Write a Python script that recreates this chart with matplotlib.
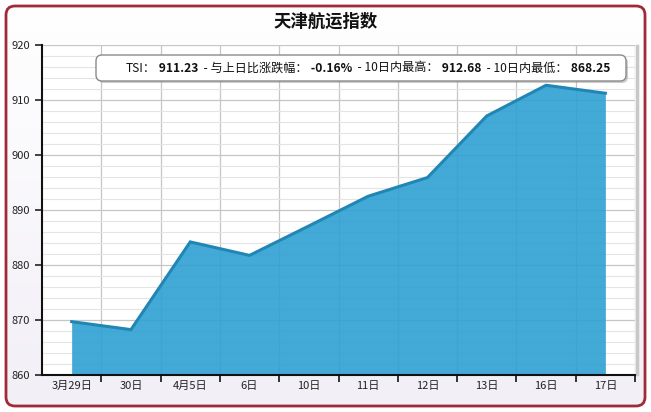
import numpy as np
import matplotlib
matplotlib.use('Agg')
import matplotlib.pyplot as plt
from matplotlib.patches import FancyBboxPatch
from matplotlib.ticker import MultipleLocator, FixedLocator, NullFormatter, FixedFormatter

plt.rcParams['font.family'] = ['Noto Sans CJK SC', 'DejaVu Sans']

# 数据
dias = ['3月29日', '30日', '4月5日', '6日', '10日', '11日', '12日', '13日', '16日', '17日']
tsi = [869.7, 868.25, 884.2, 881.75, 887.1, 892.5, 895.9, 907.1, 912.68, 911.23]
legenda_rot = ['TSI：', '  - 与上日比涨跌幅：', '  - 10日内最高：', '  - 10日内最低：']
legenda_val = ['911.23', '-0.16%', '912.68', '868.25']
titulo = '天津航运指数'

W, H = 651, 412
fig = plt.figure(figsize=(W / 100, H / 100), dpi=100)

# fundo com gradiente e moldura
bg = fig.add_axes([0, 0, 1, 1], zorder=-10)
bg.set_axis_off()
bg.set_xlim(0, W)
bg.set_ylim(H, 0)
grad = np.linspace(0, 1, 256).reshape(-1, 1)
cmap = matplotlib.colors.LinearSegmentedColormap.from_list('g', ['#ffffff', '#f2eff7'])
bg.imshow(grad, aspect='auto', cmap=cmap, extent=[6, W - 6, H - 6, 6])
bg.add_patch(FancyBboxPatch((0, 0), W, H, boxstyle='square,pad=0',
                            fc='none', ec='white', lw=10))
bg.add_patch(FancyBboxPatch((6, 6), W - 12, H - 12,
                            boxstyle='round,pad=0,rounding_size=9',
                            fc='none', ec='#a02a38', lw=2))
# sombra do lado direito
bg.plot([637, 637], [46, 374], color='#c8c8c8', lw=2.5, zorder=1)

fig.text(0.5, 1 - 22 / H, titulo, ha='center', va='center',
         fontsize=12.5, fontweight='bold', color='#111111')

ax = fig.add_axes([42 / W, 1 - 375 / H, (635 - 42) / W, (375 - 45) / H])
ax.set_facecolor('white')
x = np.arange(len(dias))
ax.fill_between(x, tsi, 860, color='#2ea0d2', alpha=0.9, lw=0, zorder=2)
ax.plot(x, tsi, color='#2186b4', lw=2.2, solid_joinstyle='miter', zorder=3)

ax.set_xlim(-0.5, len(dias) - 0.5)
ax.set_ylim(860, 920)

ax.yaxis.set_major_locator(MultipleLocator(10))
ax.yaxis.set_minor_locator(MultipleLocator(2))
ax.xaxis.set_major_locator(FixedLocator(np.arange(0.5, len(dias), 1)))
ax.xaxis.set_major_formatter(NullFormatter())
ax.xaxis.set_minor_locator(FixedLocator(x))
ax.xaxis.set_minor_formatter(FixedFormatter(dias))
ax.tick_params(axis='x', which='minor', length=0, labelsize=8, pad=4, colors='#222222')
ax.tick_params(axis='x', which='major', length=5, width=1.2, direction='out', color='#111111')
ax.tick_params(axis='y', which='major', length=5, width=1.2, labelsize=8, colors='#222222')
ax.tick_params(axis='y', which='minor', length=0)

ax.grid(True, which='major', axis='both', color='#c6c6c6', lw=0.9, zorder=0)
ax.grid(True, which='minor', axis='y', color='#e4e4e4', lw=0.8, zorder=0)
ax.set_axisbelow(True)

for s in ['top', 'right']:
    ax.spines[s].set_visible(False)
for s in ['left', 'bottom']:
    ax.spines[s].set_linewidth(1.5)
    ax.spines[s].set_color('#111111')
    ax.spines[s].set_zorder(5)

# caixa da legenda (por cima do grafico)
top = fig.add_axes([0, 0, 1, 1], zorder=10)
top.set_axis_off()
top.patch.set_alpha(0)
top.set_xlim(0, W)
top.set_ylim(H, 0)
top.add_patch(FancyBboxPatch((98, 57), 530, 26, boxstyle='round,pad=0,rounding_size=6',
                             fc='#9a9a9a', ec='none', alpha=0.5))
top.add_patch(FancyBboxPatch((96, 55), 530, 26, boxstyle='round,pad=0,rounding_size=6',
                             fc='white', ec='#8a8a8a', lw=1))

fig.canvas.draw()
rend = fig.canvas.get_renderer()
px = 126
py = 1 - 68 / H
for rot, val in zip(legenda_rot, legenda_val):
    for txt, peso in [(rot, 'normal'), (' ' + val, 'bold')]:
        t = fig.text(px / W, py, txt, ha='left', va='center', fontsize=8.7,
                     fontweight=peso, color='#111111', zorder=20)
        bb = t.get_window_extent(rend)
        px += bb.width

fig.savefig('out.png', dpi=100)
